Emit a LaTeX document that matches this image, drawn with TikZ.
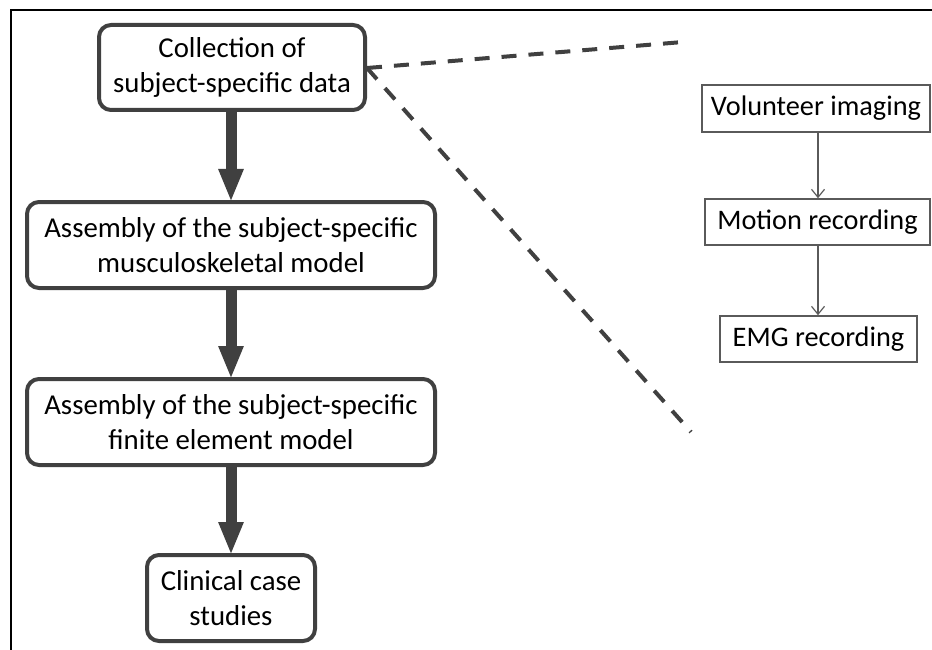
\documentclass[tikz,border=0pt]{standalone}
\usepackage{fontspec}
\setmainfont{Carlito}
\usetikzlibrary{arrows.meta}
\definecolor{dk}{HTML}{404040}
\definecolor{md}{HTML}{5A5A5A}
\begin{document}
\begin{tikzpicture}[x=1pt,y=-1pt,
  bigbox/.style={draw=dk, line width=4pt, rounded corners=12pt, align=center,
    inner sep=0pt, font=\fontsize{28.8}{35}\selectfont, text=black},
  smallbox/.style={draw=md, line width=1.5pt, align=center, inner sep=0pt,
    font=\fontsize{28.3}{34}\selectfont, text=black},
  thick arrow/.style={draw=dk, fill=dk, line width=11pt, -{Triangle[length=33pt,width=23pt]}},
  thin arrow/.style={draw=md, line width=1.2pt, -{Straight Barb[length=8pt,width=13pt]}},
  dashline/.style={draw=dk, line width=4pt, dash pattern=on 15pt off 12pt}]
\useasboundingbox (0,0) rectangle (932,650);
\coordinate (fbl) at (11,650);
\coordinate (ftl) at (11,10);
\coordinate (ftr) at (932,10);
\draw[line width=2pt] (fbl) -- (ftl) -- (ftr);

\node[bigbox, minimum width=266pt, minimum height=85pt] (c1) at (232,67.5) {Collection of\\subject-specific data};
\node[bigbox, minimum width=408pt, minimum height=86pt] (c2) at (231,245) {Assembly of the subject-specific\\musculoskeletal model};
\node[bigbox, minimum width=408pt, minimum height=86pt] (c3) at (231,422) {Assembly of the subject-specific\\finite element model};
\node[bigbox, minimum width=168pt, minimum height=86pt] (c4) at (231,598) {Clinical case\\studies};

\draw[thick arrow] (c1.south -| c4.north) -- ([yshift=-2pt]c2.north -| c4.north);
\draw[thick arrow] (c2.south -| c4.north) -- ([yshift=-2pt]c3.north -| c4.north);
\draw[thick arrow] (c3.south -| c4.north) -- ([yshift=-2pt]c4.north);

\node[smallbox, minimum width=228pt, minimum height=47pt] (v) at (816,108.5) {Volunteer imaging};
\node[smallbox, minimum width=225pt, minimum height=46pt] (m) at (817.5,222) {Motion recording};
\node[smallbox, minimum width=197pt, minimum height=46pt] (e) at (818.5,339) {EMG recording};

\coordinate (ax) at (818,0);
\draw[thin arrow] (ax |- v.south) -- (ax |- m.north);
\draw[thin arrow] (ax |- m.south) -- (ax |- e.north);

\coordinate (d0) at (367,68);
\coordinate (d1) at (683,42);
\coordinate (d2) at (691,432);
\draw[dashline] (d0) -- (d1);
\draw[dashline] (d0) -- (d2);
\end{tikzpicture}
\end{document}
